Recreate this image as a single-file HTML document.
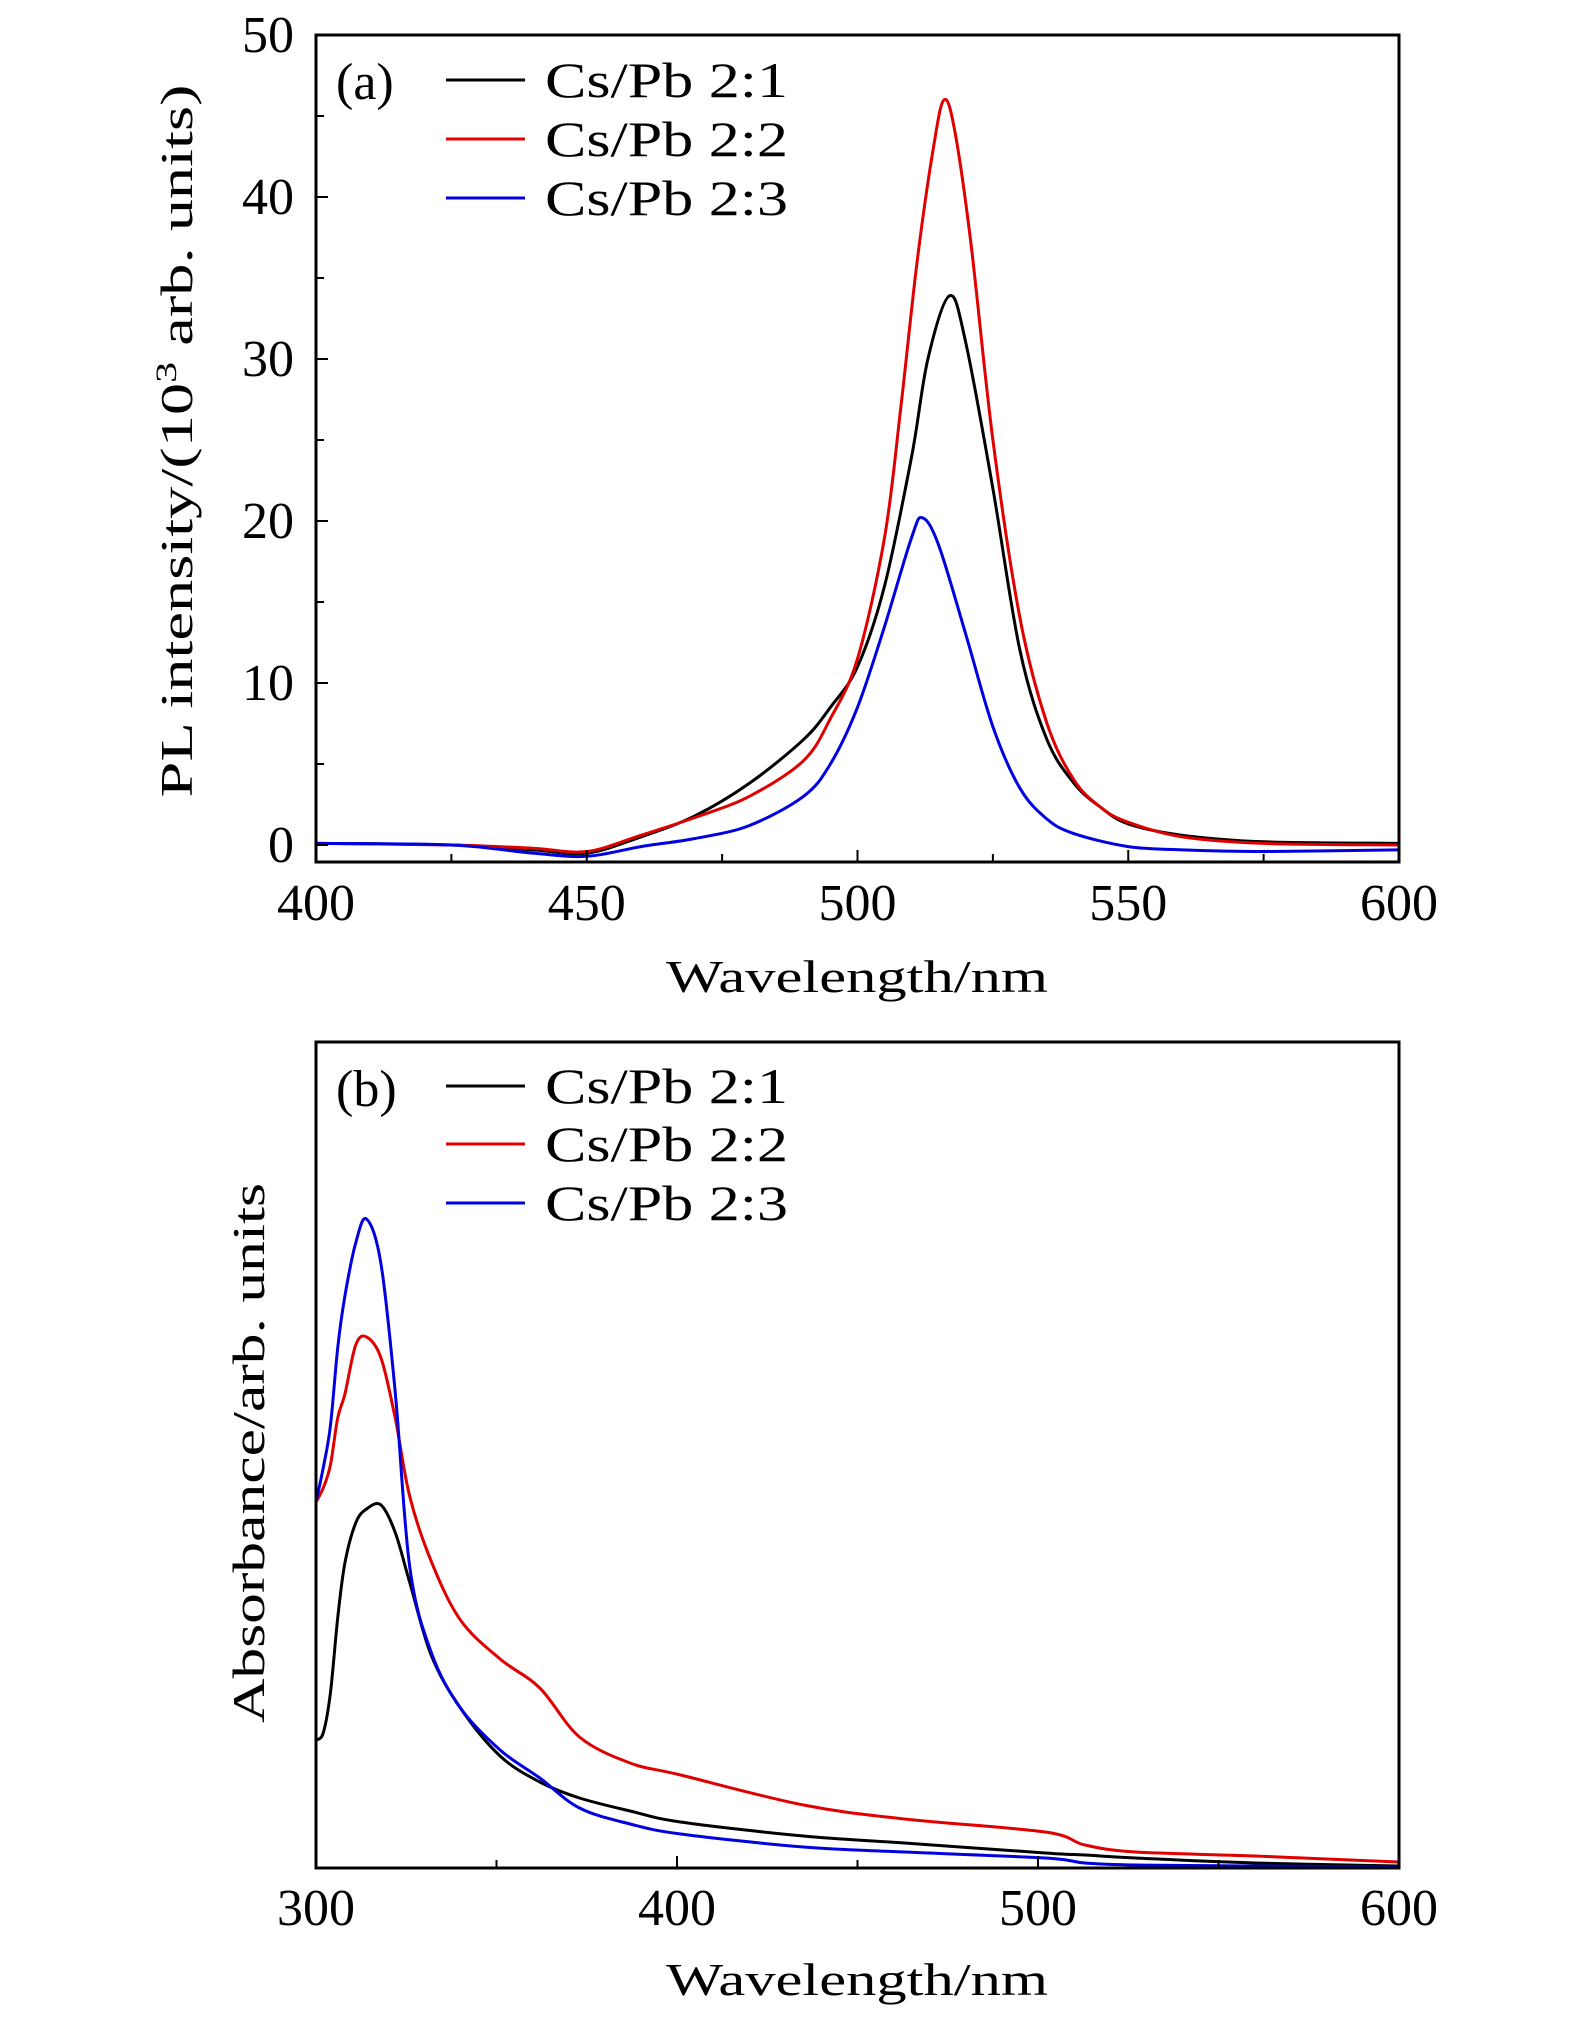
<!DOCTYPE html>
<html><head><meta charset="utf-8"><style>
html,body{margin:0;padding:0;background:#fff;}
svg{display:block;font-family:"Liberation Serif",serif;}
</style></head><body>
<svg id="fig" width="1575" height="2018" viewBox="0 0 1575 2018" xmlns="http://www.w3.org/2000/svg"></svg>
<script>
// Panel (a) data: PL intensity (10^3 arb. units)
const plWavelengths21 = [400,425,440,450,460,470,480,490,495,500,505,510,513,517,520,525,530,535,540,545,550,560,575,600];
const plCs21 = [0.1,0,-0.3,-0.5,0.5,1.8,3.8,6.5,8.5,11,16,24,30,33.9,31,22,12,6.5,3.8,2.3,1.3,0.6,0.2,0.1];
const plWavelengths22 = [400,425,440,450,460,470,480,490,495,500,505,508,511,514,516,518,521,525,530,535,540,545,550,560,575,600];
const plCs22 = [0.1,0,-0.2,-0.4,0.6,1.7,3,5.2,7.8,11.5,19,27,36,43,46,44,37,25,14,7.5,4,2.3,1.4,0.5,0.1,0];
const plWavelengths23 = [400,425,440,450,460,470,480,490,495,500,505,510,512,515,520,525,530,535,540,550,560,575,600];
const plCs23 = [0.1,0,-0.5,-0.7,-0.1,0.4,1.2,3,5,8.5,13.5,19,20.2,18.5,13,7.3,3.5,1.6,0.7,-0.1,-0.3,-0.4,-0.3];
const plXTicks = [400,450,500,550,600];
const plYTicks = [0,10,20,30,40,50];

// Panel (b) data: absorbance (arb. units)
const abWavelengths = [300,302,304,306,308,311,314,318,322,326,332,340,351,362,373,387,401,435,463,502,513,527,560,600];
const abCs21 = [128,135,175,250,305,345,359,363,335,285,212,160,112,86,70,57,46,32,25,15,13,10,5,2];
const abCs22 = [366,380,403,450,474,523,531,510,449,371,306,248,209,180,131,105,93,63,49,36,23,16,12,6];
const abCs23 = [366,400,442,520,572,625,649,604,474,300,215,160,118,90,60,44,34,21,16,10,5,3,2,1];
const abXTicks = [300,400,500,600];

const NS = "http://www.w3.org/2000/svg";
const svg = document.getElementById('fig');
function mk(tag, attrs, parent){
  const e = document.createElementNS(NS, tag);
  for (const k in attrs) e.setAttribute(k, attrs[k]);
  (parent||svg).appendChild(e);
  return e;
}
function smoothPath(pts){
  let d = `M${pts[0][0].toFixed(1)},${pts[0][1].toFixed(1)}`;
  for (let i=0;i<pts.length-1;i++){
    const p0=pts[Math.max(0,i-1)], p1=pts[i], p2=pts[i+1], p3=pts[Math.min(pts.length-1,i+2)];
    const c1x=p1[0]+(p2[0]-p0[0])/6, c1y=p1[1]+(p2[1]-p0[1])/6;
    const c2x=p2[0]-(p3[0]-p1[0])/6, c2y=p2[1]-(p3[1]-p1[1])/6;
    d += ` C${c1x.toFixed(1)},${c1y.toFixed(1)} ${c2x.toFixed(1)},${c2y.toFixed(1)} ${p2[0].toFixed(1)},${p2[1].toFixed(1)}`;
  }
  return d;
}
const colors = ['#000000','#e00000','#0000e0'];
const legendLabels = ['Cs/Pb 2:1','Cs/Pb 2:2','Cs/Pb 2:3'];

function panel(cfg){
  const g = mk('g',{});
  
  
  const L=316,R=1399,T=cfg.top,B=cfg.bottom;
  const xs = v => L + (v-cfg.xmin)/(cfg.xmax-cfg.xmin)*(R-L);
  const ys = v => B - (v-cfg.ymin)/(cfg.ymax-cfg.ymin)*(B-T);
  cfg.series.forEach((s,i)=>{
    const pts = s.x.map((xv,j)=>[xs(xv), ys(s.y[j])]);
    const p = mk('path',{d:smoothPath(pts), fill:'none', stroke:colors[i], 'stroke-width':3, 'stroke-linejoin':'round'}, g);
    
    
  });
  const fr = mk('rect',{x:L,y:T,width:R-L,height:B-T,fill:'none',stroke:'#000','stroke-width':3},g);
  
  
  for (let v=cfg.xmin; v<=cfg.xmax+1e-9; v+=cfg.xminor){
    const x = xs(v);
    const major = cfg.xticks.includes(v);
    mk('line',{x1:x,x2:x,y1:B,y2:B-(major?12:8),stroke:'#000','stroke-width':2},g);
  }
  cfg.xticks.forEach(v=>{
    const t = mk('text',{x:xs(v), y:cfg.xlabelY, 'font-size':52, 'text-anchor':'middle'}, g);
    t.textContent = v;
    
    
  });
  if (cfg.yticks){
    for (let v=0; v<=cfg.ymax+1e-9; v+=5){
      const y = ys(v);
      const major = cfg.yticks.includes(v);
      mk('line',{x1:L,x2:L+(major?12:8),y1:y,y2:y,stroke:'#000','stroke-width':2},g);
    }
    cfg.yticks.forEach(v=>{
      const t = mk('text',{x:294, y:ys(v)+17, 'font-size':52, 'text-anchor':'end'}, g);
      t.textContent = v;
      
      
    });
  }
  const xt = mk('text',{x:857, y:cfg.xtitleY, 'font-size':46, 'text-anchor':'middle', textLength:382, lengthAdjust:'spacingAndGlyphs'}, g);
  xt.textContent = 'Wavelength/nm';
  
  
  const yt = mk('text',{x:0, y:0, 'font-size':46, 'text-anchor':'middle', textLength:cfg.ytitleLen, lengthAdjust:'spacingAndGlyphs', transform:`translate(${cfg.ytitleX},${cfg.ytitleCY}) rotate(-90)`}, g);
  if (cfg.sup){
    yt.appendChild(document.createTextNode('PL intensity/(10'));
    const ts = mk('tspan',{dy:-16,'font-size':30},yt); ts.textContent='3';
    const ts2 = mk('tspan',{dy:16},yt); ts2.textContent=' arb. units)';
  } else yt.textContent = cfg.ytitle;
  
  
  const pl = mk('text',{x:336, y:T+64, 'font-size':52}, g);
  pl.textContent = cfg.label;
  
  
  legendLabels.forEach((lab,i)=>{
    const ly = cfg.legendY[i];
    const lg = mk('g',{},g);
    
    
    mk('line',{x1:446,x2:525,y1:ly,y2:ly,stroke:colors[i],'stroke-width':3},lg);
    const t = mk('text',{x:545, y:ly+17, 'font-size':50, textLength:243, lengthAdjust:'spacingAndGlyphs'}, lg);
    t.textContent = lab;
  });
}

panel({name:'panel-a-pl', top:35, bottom:862, xmin:400, xmax:600, ymin:-1.05, ymax:50, xminor:25,
  xticks:plXTicks, yticks:plYTicks, xlabelY:920, xtitleY:992, label:'(a)',
  ytitleX:192, ytitleCY:441, ytitleLen:713, sup:true,
  legendY:[80,139,198],
  series:[{x:plWavelengths21,y:plCs21},{x:plWavelengths22,y:plCs22},{x:plWavelengths23,y:plCs23}]});

panel({name:'panel-b-absorbance', top:1042, bottom:1868, xmin:300, xmax:600, ymin:0, ymax:826, xminor:50,
  xticks:abXTicks, yticks:null, xlabelY:1925, xtitleY:1995, label:'(b)',
  ytitleX:264, ytitleCY:1453, ytitleLen:540, ytitle:'Absorbance/arb. units',
  legendY:[1086,1144,1203],
  series:[{x:abWavelengths,y:abCs21},{x:abWavelengths,y:abCs22},{x:abWavelengths,y:abCs23}]});
</script>
</body></html>
